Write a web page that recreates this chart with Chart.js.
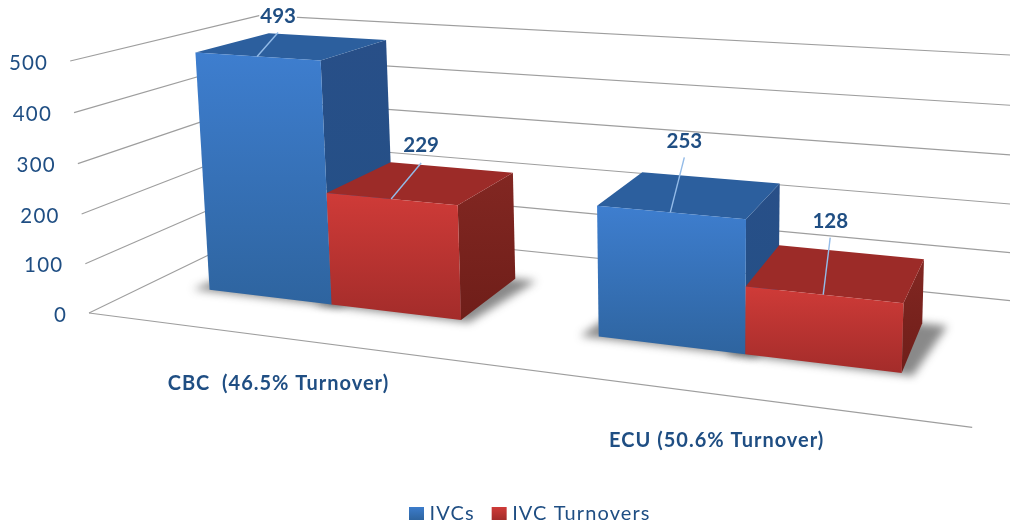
<!DOCTYPE html>
<html>
<head>
<meta charset="utf-8">
<script src="https://cdn.jsdelivr.net/npm/chart.js@4"></script>
<style>
    html, body { margin: 0; padding: 0; background: #fff; }
    canvas { display: block; }
</style>
</head>
<body>
<canvas id="chart" width="1010" height="526"></canvas>
<script>
const categories = ["CBC  (46.5% Turnover)", "ECU (50.6% Turnover)"];
const seriesNames = ["IVCs", "IVC Turnovers"];
const ivcs = [493, 253];
const ivcTurnovers = [229, 128];
const yTicks = [0, 100, 200, 300, 400, 500];

const TEXT = "#1f4e83";
const GRID = "#9e9e9e";
const LEADER = "#93bbe8";
const FONT = "Lato, 'Open Sans', sans-serif";

const barStyles = [
    { front: ["#3e7ecf", "#2e649f"], top: "#2c5f9e", side: ["#284f88", "#235086"], legend: ["#3c7ccb", "#2e649f"] },
    { front: ["#cf3b38", "#a32c2a"], top: "#9c2b28", side: ["#822722", "#6f1e19"], legend: ["#cf3b38", "#a32c2a"] }
];

// hand placed label offsets from the bar top, [line dx, line dy, text dy], in category/dataset order
const labelOffsets = [
    [[21, -24, -40], [30, -36, -54]],
    [[14, -55, -71], [7, -57, -73]]
];

// projection of the unit box (u along categories, v up the value axis, z into the page)
const origin = [89, 313];
const vanishU = [-3910, -205];
const vanishV = [700, 8500];
const vanishZ = [1136, -195];
const weightU = -0.1809;
const weightV = -0.02986;
const weightZ = 0.2104;
const barDepth = [0.3, 0.71];

function project(u, v, z) {
    const a = weightU * u;
    const b = weightV * v;
    const c = weightZ * z;
    const w = 1 + a + b + c;
    return [
        (a * vanishU[0] + b * vanishV[0] + c * vanishZ[0] + origin[0]) / w,
        (a * vanishU[1] + b * vanishV[1] + c * vanishZ[1] + origin[1]) / w
    ];
}

function polygon(ctx, points) {
    ctx.beginPath();
    points.forEach((p, i) => (i ? ctx.lineTo(p[0], p[1]) : ctx.moveTo(p[0], p[1])));
    ctx.closePath();
}

function line(ctx, a, b) {
    ctx.beginPath();
    ctx.moveTo(a[0], a[1]);
    ctx.lineTo(b[0], b[1]);
    ctx.stroke();
}

function verticalGradient(ctx, points, colors) {
    const ys = points.map((p) => p[1]);
    const g = ctx.createLinearGradient(0, Math.min(...ys), 0, Math.max(...ys));
    g.addColorStop(0, colors[0]);
    g.addColorStop(1, colors[1]);
    return g;
}

// bar element -> box in u/v space, so the library's scales still place every bar
function barBox(chart, el) {
    const area = chart.chartArea;
    return {
        u0: (el.x - el.width / 2 - area.left) / area.width,
        u1: (el.x + el.width / 2 - area.left) / area.width,
        v: (area.bottom - el.y) / area.height
    };
}

function drawGrid(chart, ctx) {
    const yScale = chart.scales.y;
    const area = chart.chartArea;
    ctx.strokeStyle = GRID;
    ctx.lineWidth = 1.1;
    yTicks.forEach((tick) => {
        const v = (area.bottom - yScale.getPixelForValue(tick)) / area.height;
        line(ctx, project(0, v, 0), project(0, v, 1));
        line(ctx, project(0, v, 1), project(1.006, v, 1));
    });
    line(ctx, project(0, 0, 0), project(1, 0, 0));
}

function drawShadows(chart, ctx) {
    ctx.save();
    ctx.filter = "blur(4px)";
    ctx.fillStyle = "rgba(40, 40, 40, 0.55)";
    chart.data.datasets.forEach((dataset, d) => {
        chart.getDatasetMeta(d).data.forEach((el) => {
            const box = barBox(chart, el);
            polygon(ctx, [
                project(box.u0 - 0.02, 0, barDepth[0] - 0.012),
                project(box.u1 + 0.012, 0, barDepth[0] - 0.012),
                project(box.u1 + 0.028, 0, barDepth[1]),
                project(box.u0, 0, barDepth[1])
            ]);
            ctx.fill();
        });
    });
    ctx.restore();
}

function drawBar(chart, ctx, el, style) {
    const { u0, u1, v } = barBox(chart, el);
    const [z0, z1] = barDepth;
    const front = [project(u0, v, z0), project(u1, v, z0), project(u1, 0, z0), project(u0, 0, z0)];
    const top = [project(u0, v, z0), project(u0, v, z1), project(u1, v, z1), project(u1, v, z0)];
    const side = [project(u1, v, z0), project(u1, v, z1), project(u1, 0, z1), project(u1, 0, z0)];

    polygon(ctx, side);
    ctx.fillStyle = verticalGradient(ctx, side, style.side);
    ctx.fill();
    polygon(ctx, top);
    ctx.fillStyle = style.top;
    ctx.fill();
    polygon(ctx, front);
    ctx.fillStyle = verticalGradient(ctx, front, style.front);
    ctx.fill();
}

function drawLabels(chart, ctx) {
    ctx.textBaseline = "middle";
    ctx.textAlign = "center";
    ctx.font = "bold 20.5px " + FONT;
    chart.data.datasets.forEach((dataset, d) => {
        chart.getDatasetMeta(d).data.forEach((el, i) => {
            const box = barBox(chart, el);
            const start = project((box.u0 + box.u1) / 2, box.v, barDepth[0]);
            const offset = labelOffsets[i][d];
            const text = String(dataset.data[i]);
            const x = start[0] + offset[0];
            const y = start[1] + offset[2];
            const width = ctx.measureText(text).width;
            ctx.fillStyle = "#fff";
            ctx.fillRect(x - width / 2 - 1, y - 8, width + 2, 16);
            ctx.strokeStyle = LEADER;
            ctx.lineWidth = 1.4;
            line(ctx, start, [x, start[1] + offset[1]]);
            ctx.fillStyle = TEXT;
            ctx.fillText(text, x, y);
        });
    });
}

function drawAxisText(chart, ctx) {
    const area = chart.chartArea;
    ctx.fillStyle = TEXT;
    ctx.textBaseline = "middle";

    ctx.textAlign = "right";
    ctx.font = "20.5px " + FONT;
    ctx.letterSpacing = "1.2px";
    yTicks.forEach((tick) => {
        const v = (area.bottom - chart.scales.y.getPixelForValue(tick)) / area.height;
        const p = project(0, v, 0);
        ctx.fillText(String(tick), p[0] - 22, p[1] + 2);
    });

    ctx.textAlign = "center";
    ctx.font = "bold 20px " + FONT;
    ctx.letterSpacing = "1px";
    categories.forEach((name, i) => {
        const u = (chart.scales.x.getPixelForValue(i) - area.left) / area.width;
        const p = project(u, 0, 0);
        ctx.fillText(name, p[0], p[1] + 46.5);
    });
    ctx.letterSpacing = "0px";
}

function drawLegend(chart, ctx) {
    let x = 409;
    ctx.textAlign = "left";
    ctx.textBaseline = "middle";
    ctx.font = "20px " + FONT;
    ctx.letterSpacing = "1.1px";
    seriesNames.forEach((name, i) => {
        const box = [[x, 507], [x + 15, 507], [x + 15, 520], [x, 520]];
        ctx.fillStyle = verticalGradient(ctx, box, barStyles[i].legend);
        polygon(ctx, box);
        ctx.fill();
        ctx.fillStyle = TEXT;
        ctx.fillText(name, x + 20.5, 513.5);
        x += 20.5 + ctx.measureText(name).width + 17;
    });
    ctx.letterSpacing = "0px";
}

const box3d = {
    id: "box3d",
    beforeDatasetsDraw(chart) {
        const ctx = chart.ctx;
        ctx.save();
        drawGrid(chart, ctx);
        drawShadows(chart, ctx);
        // draw left to right so red covers the blue side face
        chart.getDatasetMeta(0).data.forEach((el, i) => {
            drawBar(chart, ctx, el, barStyles[0]);
            drawBar(chart, ctx, chart.getDatasetMeta(1).data[i], barStyles[1]);
        });
        drawLabels(chart, ctx);
        drawAxisText(chart, ctx);
        drawLegend(chart, ctx);
        ctx.restore();
        return false;
    }
};

new Chart(document.getElementById("chart"), {
    type: "bar",
    data: {
        labels: categories,
        datasets: [
            { label: seriesNames[0], data: ivcs },
            { label: seriesNames[1], data: ivcTurnovers }
        ]
    },
    options: {
        responsive: false,
        animation: false,
        categoryPercentage: 2 / 3,
        barPercentage: 1,
        layout: { padding: 0 },
        plugins: {
            legend: { display: false },
            tooltip: { enabled: false }
        },
        scales: {
            x: { display: false },
            y: { display: false, min: 0, max: 500 }
        }
    },
    plugins: [box3d]
});
</script>
</body>
</html>
